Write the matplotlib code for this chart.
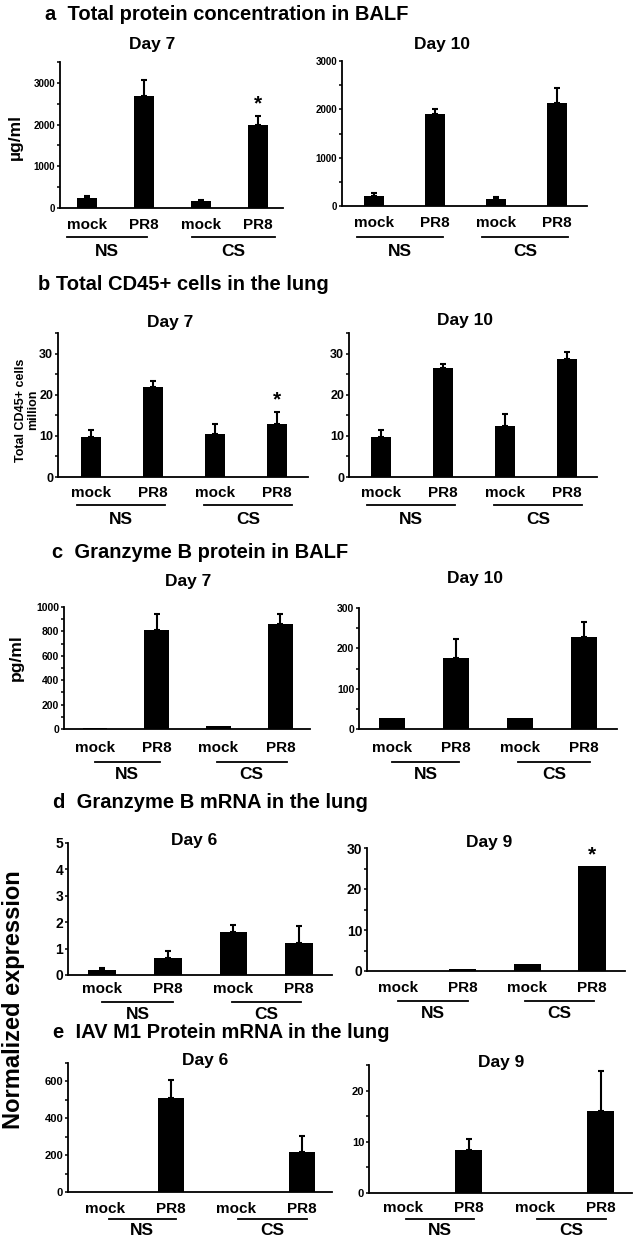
import numpy as np
import matplotlib
matplotlib.use('Agg')
import matplotlib.pyplot as plt
from matplotlib import font_manager
from matplotlib.transforms import offset_copy
from matplotlib.ticker import MultipleLocator

# ---- data -------------------------------------------------------------
groups = ['mock', 'PR8', 'mock', 'PR8']
treat = ['NS', 'CS']

# a: total protein in BALF (ug/ml)
a_d7 = [240, 2680, 160, 1980]
a_d7_err = [40, 380, 25, 230]
a_d10 = [214, 1897, 152, 2138]
a_d10_err = [56, 117, 41, 310]

# b: total CD45+ cells (million)
b_d7 = [9.7, 21.9, 10.4, 12.9]
b_d7_err = [1.7, 1.5, 2.5, 2.9]
b_d10 = [9.8, 26.4, 12.4, 28.7]
b_d10_err = [1.6, 1.0, 3.0, 1.7]

# c: granzyme B protein in BALF (pg/ml)
c_d7 = [5, 815, 25, 861]
c_d7_err = [0, 130, 0, 84]
c_d10 = [28, 177, 28, 227]
c_d10_err = [0, 47, 0, 39]

# d: granzyme B mRNA
d_d6 = [0.19, 0.64, 1.63, 1.2]
d_d6_err = [0.09, 0.28, 0.27, 0.66]
d_d9 = [0.0, 0.6, 1.6, 25.5]
d_d9_err = [0, 0, 0, 0]

# e: IAV M1 mRNA
e_d6 = [0, 508, 0, 215]
e_d6_err = [0, 98, 0, 91]
e_d9 = [0, 8.4, 0, 16.1]
e_d9_err = [0, 2.1, 0, 7.8]

W, H = 634, 1238
fig = plt.figure(figsize=(W / 100, H / 100), dpi=100)

names = {f.name for f in font_manager.fontManager.ttflist}
MAIN = 'Liberation Sans' if 'Liberation Sans' in names else 'DejaVu Sans'
NARROW = 'Liberation Sans Narrow' if 'Liberation Sans Narrow' in names else MAIN
plt.rcParams['font.family'] = [MAIN, 'DejaVu Sans']
plt.rcParams['font.weight'] = 'bold'

TITLE_FS = 14.5


def px_axes(x0, y0, x1, y1):
    return fig.add_axes([x0 / W, 1 - y1 / H, (x1 - x0) / W, (y1 - y0) / H])


def panel(rect, vals, errs, xlim, width, ymax, major, minor, title, title_x,
          title_y, tick_font, tick_size, lab_dy, line_dy, grp_dy, ns_span,
          cs_span, star=None):
    ax = px_axes(*rect)
    x = np.arange(4)
    ax.bar(x, vals, width=width, color='black', zorder=2)
    errs = np.array(errs, dtype=float)
    m = errs > 0
    ax.errorbar(x[m], np.array(vals)[m], yerr=[np.zeros(m.sum()), errs[m]],
                fmt='none', ecolor='black', elinewidth=1.5, capsize=2.5,
                capthick=1.5, zorder=1)
    ax.set_xlim(*xlim)
    ax.set_ylim(0, ymax)
    ax.yaxis.set_major_locator(MultipleLocator(major))
    if minor:
        ax.yaxis.set_minor_locator(MultipleLocator(minor))
    ax.set_xticks([])
    for s in ['top', 'right']:
        ax.spines[s].set_visible(False)
    for s in ['left', 'bottom']:
        ax.spines[s].set_linewidth(1.3)
    ax.tick_params(axis='y', which='both', direction='out', length=2.5,
                   width=1.1, pad=1)
    for t in ax.get_yticklabels():
        t.set_fontfamily(tick_font)
        t.set_fontsize(tick_size)
        t.set_fontweight('bold')

    base = ax.get_xaxis_transform()
    tl = offset_copy(base, fig=fig, y=-lab_dy, units='dots')
    for xi, g in zip(x, groups):
        ax.text(xi, 0, g, transform=tl, ha='center', va='center',
                fontsize=11, fontweight='bold')
    tline = offset_copy(base, fig=fig, y=-line_dy, units='dots')
    tg = offset_copy(base, fig=fig, y=-grp_dy, units='dots')
    for span, name in zip([ns_span, cs_span], treat):
        ax.plot(span, [0, 0], color='black', lw=1.3, transform=tline,
                clip_on=False)
        ax.text(np.mean(span), 0, name, transform=tg, ha='center',
                va='center_baseline', fontsize=12.5, fontweight='bold')
    if star is not None:
        i = star
        top = vals[i] + errs[i]
        ax.text(i, top + ymax * 0.02, '*', ha='center', va='bottom',
                fontsize=15, fontweight='bold')
    fig.text(title_x / W, 1 - title_y / H, title, ha='center', va='center',
             fontsize=12.5, fontweight='bold')
    return ax


# panel a
fig.text(45 / W, 1 - 14 / H, 'a  Total protein concentration in BALF',
         ha='left', va='center', fontsize=TITLE_FS, fontweight='bold')
panel((60, 62, 283, 208), a_d7, a_d7_err, (-0.47, 3.44), 0.35, 3500, 1000, 500,
      'Day 7', 152, 45, MAIN, 7, 17, 29, 42, (-0.35, 1.05), (1.85, 3.3), star=3)
panel((342, 61, 587, 206), a_d10, a_d10_err, (-0.52, 3.49), 0.33, 3000, 1000, 500,
      'Day 10', 442, 45, MAIN, 7, 17, 31, 44, (-0.28, 1.13), (1.77, 3.18))
fig.text(15 / W, 1 - 137 / H, 'µg/ml', rotation=90, ha='center', va='center',
         fontsize=12.5, fontweight='bold')

# panel b
fig.text(38 / W, 1 - 285 / H, 'b Total CD45+ cells in the lung',
         ha='left', va='center', fontsize=TITLE_FS, fontweight='bold')
panel((58, 333, 308, 477), b_d7, b_d7_err, (-0.53, 3.5), 0.33, 35, 10, 5,
      'Day 7', 170, 322, MAIN, 9, 16, 28, 41, (-0.23, 1.19), (1.82, 3.24), star=3)
panel((349, 333, 597, 477), b_d10, b_d10_err, (-0.52, 3.48), 0.33, 35, 10, 5,
      'Day 10', 465, 320, MAIN, 9, 16, 28, 41, (-0.23, 1.19), (1.82, 3.24))
fig.text(27 / W, 1 - 410 / H, 'Total CD45+ cells\nmillion', rotation=90,
         ha='center', va='center', fontsize=9, fontweight='bold',
         linespacing=0.95)

# panel c
fig.text(52 / W, 1 - 552 / H, 'c  Granzyme B protein in BALF',
         ha='left', va='center', fontsize=TITLE_FS, fontweight='bold')
panel((64, 607, 310, 729), c_d7, c_d7_err, (-0.5, 3.48), 0.4, 1000, 200, 100,
      'Day 7', 188, 582, NARROW, 7.5, 19, 33, 44, (0.0, 1.05), (1.97, 3.1))
panel((359, 608, 617, 729), c_d10, c_d10_err, (-0.52, 3.52), 0.41, 300, 100, 50,
      'Day 10', 475, 578, NARROW, 7.5, 19, 33, 44, (0.0, 1.05), (1.97, 3.1))
fig.text(16 / W, 1 - 658 / H, 'pg/ml', rotation=90, ha='center', va='center',
         fontsize=12.5, fontweight='bold')

# panel d
fig.text(53 / W, 1 - 803 / H, 'd  Granzyme B mRNA in the lung',
         ha='left', va='center', fontsize=TITLE_FS, fontweight='bold')
panel((68, 843, 332, 975), d_d6, d_d6_err, (-0.52, 3.5), 0.42, 5, 1, None,
      'Day 6', 194, 840, NARROW, 10, 14, 27, 38, (0.0, 1.08), (1.97, 3.03))
panel((367, 848, 625, 971), d_d9, d_d9_err, (-0.48, 3.51), 0.42, 30, 10, 5,
      'Day 9', 489, 842, NARROW, 10, 17, 30, 41, (0.0, 1.08), (1.97, 3.03),
      star=3)

# panel e
fig.text(53 / W, 1 - 1033 / H, 'e  IAV M1 Protein mRNA in the lung',
         ha='left', va='center', fontsize=TITLE_FS, fontweight='bold')
panel((68, 1063, 332, 1192), e_d6, e_d6_err, (-0.57, 3.46), 0.4, 700, 200, 100,
      'Day 6', 205, 1060, NARROW, 8, 17, 27, 37, (0.05, 1.08), (2.03, 3.08))
panel((369, 1065, 632, 1193), e_d9, e_d9_err, (-0.51, 3.47), 0.41, 25, 10, 5,
      'Day 9', 501, 1063, NARROW, 8, 15, 26, 36, (0.05, 1.08), (2.03, 3.08))

fig.text(14 / W, 1 - 1000 / H, 'Normalized expression', rotation=90,
         ha='center', va='center', fontsize=17, fontweight='bold')

fig.savefig('out.png', dpi=100)
